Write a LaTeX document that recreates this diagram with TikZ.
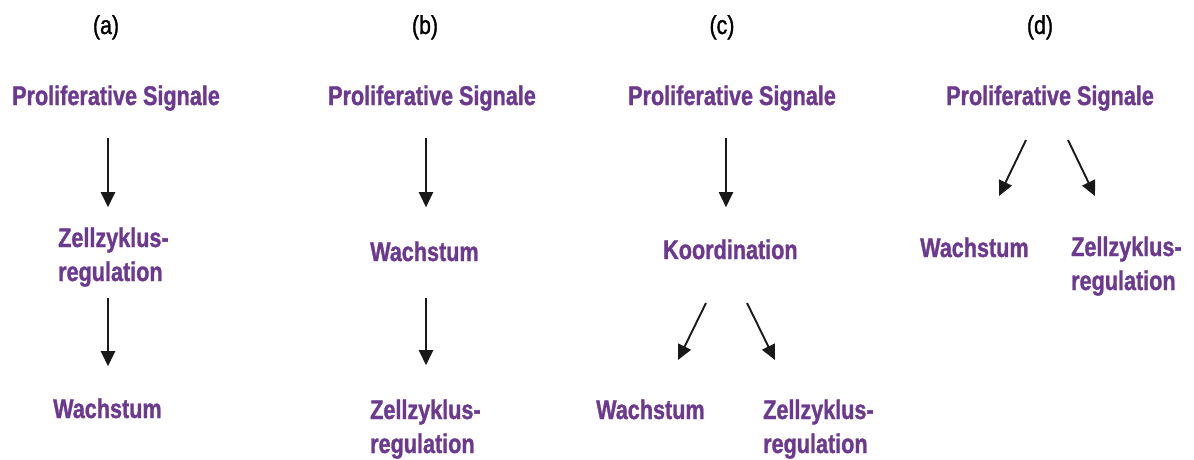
\documentclass[tikz,border=0pt]{standalone}
\usepackage{fontspec}
\setmainfont{Liberation Sans}[FakeStretch=0.8,BoldFeatures={FakeBold=1.2}]
\newfontfamily\panelfont{Liberation Sans}[FakeStretch=0.82,FakeBold=1.2]
\usetikzlibrary{arrows.meta,calc}
\definecolor{signalpurple}{HTML}{6B3A8E}
\begin{document}
\begin{tikzpicture}[x=1pt,y=-1pt,
  term/.style={inner sep=0pt,anchor=base west,text=signalpurple,align=left,
    font=\fontsize{27}{34}\selectfont\bfseries},
  panel/.style={inner sep=0pt,anchor=base,font=\panelfont\fontsize{26}{28}\selectfont},
  arr/.style={line width=1.9pt,draw=black!90,-{Triangle[length=15pt,width=14pt]}}]
\useasboundingbox (0,0) rectangle (1194,459);

% (a) signals -> cell cycle regulation -> growth
\node[panel] (la) at (106,34) {(a)};
\node[term] (psA) at (12,105) {Proliferative Signale};
\node[term] (zA) at (58,281) {Zellzyklus-\\regulation};
\node[term] (wA) at (53,418) {Wachstum};
\coordinate (axA) at (108,0);
\draw[arr,shorten <=27pt,shorten >=20pt] (psA.south -| axA) -- (zA.north -| axA);
\draw[arr,shorten <=11pt,shorten >=32pt] (zA.south -| axA) -- (wA.north -| axA);

% (b) signals -> growth -> cell cycle regulation
\node[panel] (lb) at (425,34) {(b)};
\node[term] (psB) at (328,105) {Proliferative Signale};
\node[term] (wB) at (370,261) {Wachstum};
\node[term] (zB) at (370,453) {Zellzyklus-\\regulation};
\coordinate (axB) at (426,0);
\draw[arr,shorten <=27pt,shorten >=34pt] (psB.south -| axB) -- (wB.north -| axB);
\draw[arr,shorten <=37pt,shorten >=34pt] (wB.south -| axB) -- (zB.north -| axB);

% (c) signals -> coordination -> both
\node[panel] (lc) at (722,34) {(c)};
\node[term] (psC) at (628,105) {Proliferative Signale};
\node[term] (kC) at (663,259) {Koordination};
\node[term] (wC) at (596,419) {Wachstum};
\node[term] (zC) at (763,453) {Zellzyklus-\\regulation};
\coordinate (axC) at (726,0);
\draw[arr,shorten <=27pt,shorten >=32pt] (psC.south -| axC) -- (kC.north -| axC);
\draw[arr] ($(kC.base west)+(43,44)$) -- ($(wC.base west)+(82,-59)$);
\draw[arr] ($(kC.base west)+(84,44)$) -- ($(zC.base west)+(12,-93)$);

% (d) signals -> growth and cell cycle regulation in parallel
\node[panel] (ld) at (1040,34) {(d)};
\node[term] (psD) at (946,105) {Proliferative Signale};
\node[term] (wD) at (920,257) {Wachstum};
\node[term] (zD) at (1071,290) {Zellzyklus-\\regulation};
\draw[arr] ($(psD.base west)+(80,35)$) -- ($(wD.base west)+(79,-61)$);
\draw[arr] ($(psD.base west)+(122,35)$) -- ($(zD.base west)+(24,-94)$);
\end{tikzpicture}
\end{document}
